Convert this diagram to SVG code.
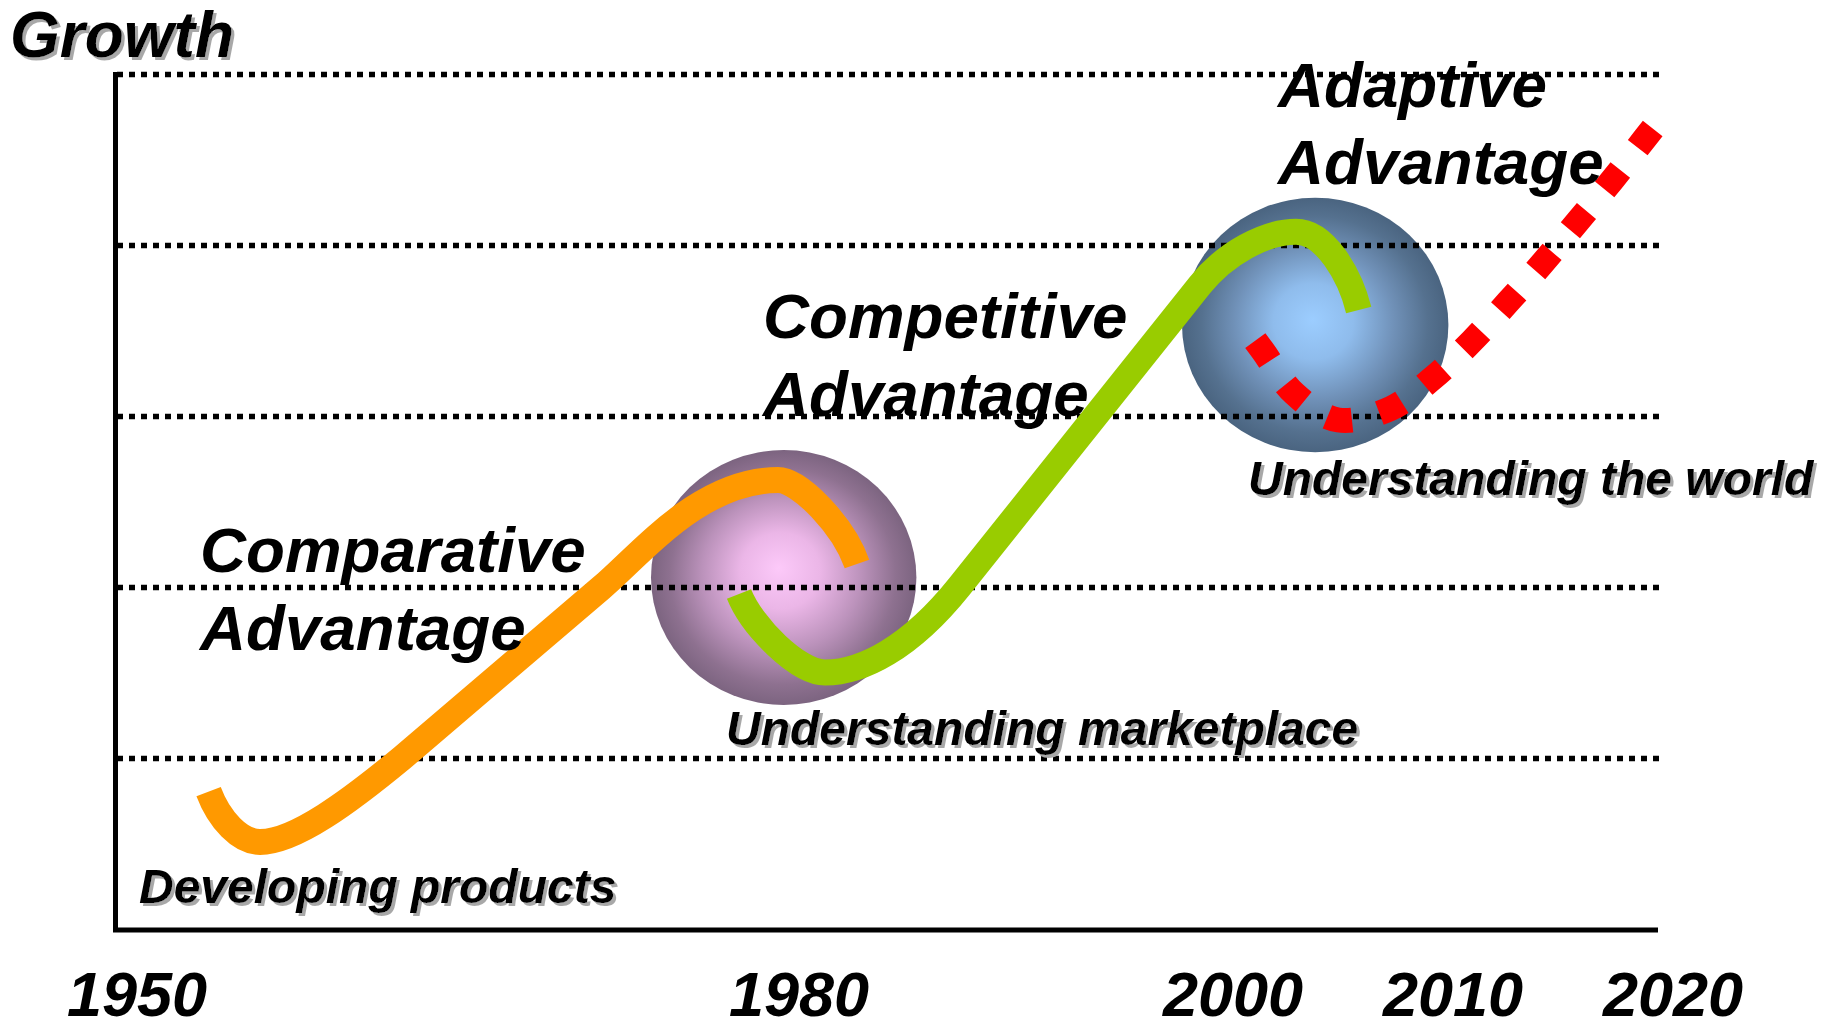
<svg xmlns="http://www.w3.org/2000/svg" width="1831" height="1021" viewBox="0 0 1831 1021">
<defs>
  <radialGradient id="gPurple" cx="0.5" cy="0.5" r="0.5" fx="0.482" fy="0.463">
    <stop offset="0" stop-color="#fcc9f9"/>
    <stop offset="0.3" stop-color="#ebb6e7"/>
    <stop offset="0.6" stop-color="#bb92bb"/>
    <stop offset="0.85" stop-color="#8e7190"/>
    <stop offset="1" stop-color="#7c6480"/>
  </radialGradient>
  <radialGradient id="gBlue" cx="0.5" cy="0.5" r="0.5" fx="0.49" fy="0.48">
    <stop offset="0" stop-color="#9ccdff"/>
    <stop offset="0.3" stop-color="#8fbcec"/>
    <stop offset="0.6" stop-color="#7091b8"/>
    <stop offset="0.85" stop-color="#55718f"/>
    <stop offset="1" stop-color="#4a6480"/>
  </radialGradient>
  <filter id="shadow" x="-5%" y="-20%" width="115%" height="150%">
    <feDropShadow dx="3" dy="3" stdDeviation="0.6" flood-color="#a8a8a8" flood-opacity="1"/>
  </filter>
</defs>
<style>
  .grid{stroke:#000;stroke-width:5.5;stroke-dasharray:6 6;fill:none}
  .axis{stroke:#000;stroke-width:5;fill:none}
  .curve{fill:none;stroke-width:26;stroke-linecap:butt;stroke-linejoin:round}
  .t{font-family:"Liberation Sans",Arial,sans-serif;font-weight:bold;font-style:italic;fill:#000}
  .big{font-size:63.7px}
  .small{font-size:48px}
  .year{font-size:63px}
</style>
<rect width="1831" height="1021" fill="#fff"/>

<g id="sphere-marketplace">
  <ellipse cx="783.7" cy="577.5" rx="132.7" ry="127.5" fill="url(#gPurple)"/>
</g>
<g id="sphere-world">
  <ellipse cx="1315.2" cy="325" rx="133.2" ry="127.3" fill="url(#gBlue)"/>
</g>

<g id="grid">
  <line class="grid" x1="117" y1="74.5" x2="1659" y2="74.5"/>
  <line class="grid" x1="117" y1="245.5" x2="1659" y2="245.5"/>
  <line class="grid" x1="117" y1="416.5" x2="1659" y2="416.5"/>
  <line class="grid" x1="117" y1="587.5" x2="1659" y2="587.5"/>
  <line class="grid" x1="117" y1="758.5" x2="1659" y2="758.5"/>
</g>

<g id="axes">
  <polyline class="axis" points="115.5,72 115.5,930 1658,930"/>
</g>

<g id="connectors">
  <path id="curve-comparative" class="curve" stroke="#ff9900" d="M208.6,791.7 C219.2,819.8 240,842 260,842 C295,842 350,801 402,758 L601,588 C641,554 700,480 778,480 C800,480 843.8,526.4 857,564"/>
  <path id="curve-competitive" class="curve" stroke="#99cc00" d="M739,594 C752,626.6 798,672.5 825,672.5 C862,672.5 910,648 959,587 L1200,285 C1225,253.7 1265,231.7 1296,231.7 C1325,231.7 1350,275 1358.7,310"/>
  <path id="curve-adaptive" fill="none" stroke="#ff0000" stroke-width="25" stroke-dasharray="25 28.3" d="M1255.3,340.6 L1262.7,350.7 C1273.1,364.9 1281.4,381.75 1294,393.3 C1306.6,404.85 1322.1,417.5 1338.3,420 C1354.5,422.5 1375.2,415.35 1391,408.3 C1406.8,401.25 1419.8,388.9 1433.3,377.7 C1446.8,366.5 1459.5,353.7 1472,341 C1484.5,328.3 1496.4,314.8 1508.3,301.7 C1520.2,288.6 1531.6,275.8 1543.3,262.3 C1555,248.8 1566.8,234.4 1578.3,220.7 C1589.8,207 1601.2,193.7 1612.3,180 C1623.4,166.3 1634.1,152.2 1645,138.3 L1652.7,128.5"/>
</g>

<g id="label-growth">
  <text class="t" x="10" y="57" font-size="64" filter="url(#shadow)">Growth</text>
</g>
<g id="label-comparative">
  <text class="t big" x="200" y="572">Comparative</text>
  <text class="t big" x="200" y="650">Advantage</text>
</g>
<g id="label-competitive">
  <text class="t big" x="763" y="338">Competitive</text>
  <text class="t big" x="763" y="416">Advantage</text>
</g>
<g id="label-adaptive">
  <text class="t big" x="1278" y="107">Adaptive</text>
  <text class="t big" x="1278" y="184">Advantage</text>
</g>
<g id="label-developing">
  <text class="t small" x="139" y="903" filter="url(#shadow)">Developing products</text>
</g>
<g id="label-marketplace">
  <text class="t small" x="726" y="745" filter="url(#shadow)">Understanding marketplace</text>
</g>
<g id="label-world">
  <text class="t small" x="1248" y="495" filter="url(#shadow)">Understanding the world</text>
</g>
<g id="years">
  <text class="t year" x="67" y="1016">1950</text>
  <text class="t year" x="729" y="1016">1980</text>
  <text class="t year" x="1163" y="1016">2000</text>
  <text class="t year" x="1383" y="1016">2010</text>
  <text class="t year" x="1603" y="1016">2020</text>
</g>
</svg>
